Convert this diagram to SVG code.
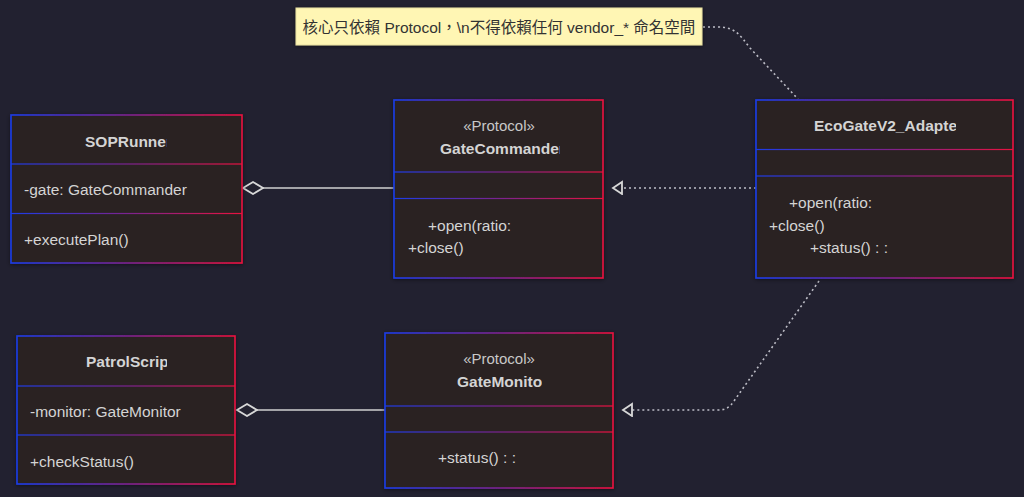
<svg xmlns="http://www.w3.org/2000/svg" width="1024" height="497" viewBox="0 0 1024 497">
<defs>
<linearGradient id="bg" x1="0" y1="0" x2="1" y2="0">
<stop offset="0" stop-color="#1c3ce8"/>
<stop offset="0.5" stop-color="#7a2390"/>
<stop offset="1" stop-color="#e8123f"/>
</linearGradient>
<filter id="sh" x="-10%" y="-10%" width="120%" height="120%">
<feDropShadow dx="0" dy="1" stdDeviation="2" flood-color="#000" flood-opacity="0.45"/>
</filter>
<marker id="tri" markerWidth="12" markerHeight="16" refX="10" refY="7" orient="auto" markerUnits="userSpaceOnUse">
<path d="M1,1 L10,7 L1,13 Z" fill="#232230" stroke="#d8d8d8" stroke-width="1.8"/>
</marker>
<marker id="dia" markerWidth="24" markerHeight="16" refX="21" refY="7" orient="auto" markerUnits="userSpaceOnUse">
<path d="M1,7 L11,1 L21,7 L11,13 Z" fill="#232230" stroke="#d8d8d8" stroke-width="1.8"/>
</marker>
<clipPath id="c1"><rect x="11" y="115" width="156" height="48"/></clipPath>
<clipPath id="c2"><rect x="394" y="100" width="166" height="72"/></clipPath>
<clipPath id="c3"><rect x="756" y="100" width="200" height="50"/></clipPath>
<clipPath id="c4"><rect x="17" y="336" width="150" height="50"/></clipPath>
<clipPath id="c5"><rect x="385" y="333" width="157" height="73"/></clipPath>
</defs>
<style>
.box{fill:#2b2122;stroke:url(#bg);stroke-width:1.6;filter:url(#sh)}
.div{fill:url(#bg)}
.t{font-family:"Liberation Sans",Arial,sans-serif;fill:#d4d4d4}
.title{font-size:15.5px;font-weight:bold}
.ster{font-size:15px;text-anchor:middle;fill:#c8c8c8}
.mem{font-size:15.5px}
.dot{fill:none;stroke:#bdbdc6;stroke-width:1.6;stroke-dasharray:2 3}
.solid{fill:none;stroke:#d0d0d0;stroke-width:1.5}
</style>
<rect width="1024" height="497" fill="#222130"/>

<g id="connectors">
<path class="dot" d="M703,27 L718,27 C735,27 740,35 750,48 L798,99"/>
<line class="solid" x1="394" y1="188" x2="243" y2="188" marker-end="url(#dia)"/>
<line class="solid" x1="385" y1="410" x2="237" y2="410" marker-end="url(#dia)"/>
<line class="dot" x1="756" y1="188" x2="613" y2="188" marker-end="url(#tri)"/>
<path class="dot" d="M819,281 L734,401 C730,407 726,410 718,410 L623,410" marker-end="url(#tri)"/>
</g>

<g id="note">
<rect x="296" y="8" width="406" height="37" fill="#fff6b4" stroke="#e8e0a0" stroke-width="1" filter="url(#sh)"/>
<text x="499" y="32.5" font-family="'Liberation Sans','Noto Sans CJK TC',sans-serif" font-size="15.5" fill="#333" text-anchor="middle">核心只依賴 Protocol，\n不得依賴任何 vendor_* 命名空間</text>
</g>

<g id="SOPRunner">
<rect class="box" x="11" y="115" width="231" height="148"/>
<rect class="div" x="11" y="163.4" width="231" height="1.2"/>
<rect class="div" x="11" y="212.9" width="231" height="1.2"/>
<text class="t title" x="85" y="147" clip-path="url(#c1)">SOPRunner</text>
<text class="t mem" x="24" y="195">-gate: GateCommander</text>
<text class="t mem" x="24" y="245">+executePlan()</text>
</g>

<g id="GateCommander">
<rect class="box" x="394" y="100" width="209" height="178"/>
<rect class="div" x="394" y="171.4" width="209" height="1.2"/>
<rect class="div" x="394" y="197.9" width="209" height="1.2"/>
<text class="t ster" x="499" y="131">«Protocol»</text>
<text class="t title" x="440" y="154" clip-path="url(#c2)">GateCommander</text>
<text class="t mem" x="428" y="231">+open(ratio:</text>
<text class="t mem" x="408" y="253">+close()</text>
</g>

<g id="EcoGateV2_Adapter">
<rect class="box" x="756" y="100" width="257" height="178"/>
<rect class="div" x="756" y="148.9" width="257" height="1.2"/>
<rect class="div" x="756" y="175.4" width="257" height="1.2"/>
<text class="t title" x="814" y="131" clip-path="url(#c3)">EcoGateV2_Adapter</text>
<text class="t mem" x="789" y="208">+open(ratio:</text>
<text class="t mem" x="769" y="231">+close()</text>
<text class="t mem" x="810" y="253">+status() : :</text>
</g>

<g id="PatrolScript">
<rect class="box" x="17" y="336" width="218" height="148"/>
<rect class="div" x="17" y="385.4" width="218" height="1.2"/>
<rect class="div" x="17" y="434.4" width="218" height="1.2"/>
<text class="t title" x="86" y="367" clip-path="url(#c4)">PatrolScript</text>
<text class="t mem" x="30" y="417">-monitor: GateMonitor</text>
<text class="t mem" x="30" y="467">+checkStatus()</text>
</g>

<g id="GateMonitor">
<rect class="box" x="385" y="333" width="228" height="155"/>
<rect class="div" x="385" y="405.4" width="228" height="1.2"/>
<rect class="div" x="385" y="431.4" width="228" height="1.2"/>
<text class="t ster" x="499" y="364">«Protocol»</text>
<text class="t title" x="457" y="387" clip-path="url(#c5)">GateMonitor</text>
<text class="t mem" x="438" y="463">+status() : :</text>
</g>
</svg>
